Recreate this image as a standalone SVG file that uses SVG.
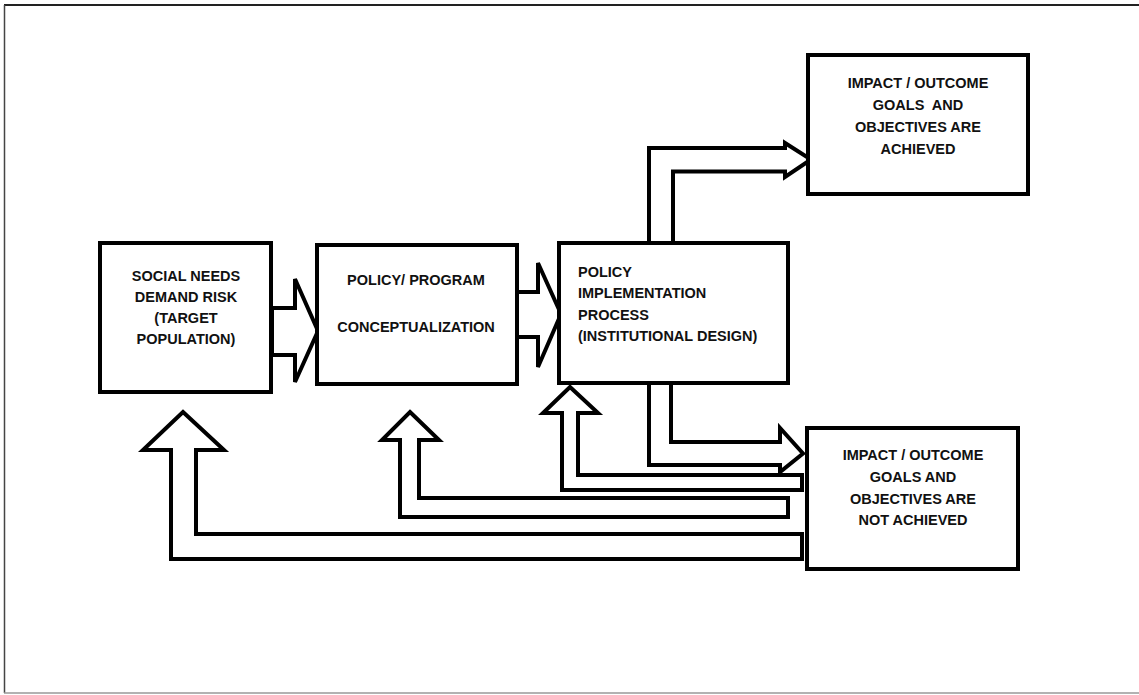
<svg xmlns="http://www.w3.org/2000/svg" width="1139" height="695" viewBox="0 0 1139 695">
<style>
.box{fill:#fff;stroke:#000;stroke-width:4}
.arr{fill:#fff;stroke:#000;stroke-width:4;stroke-linejoin:miter}
.t{font-family:"Liberation Sans",Arial,sans-serif;font-weight:bold;font-size:14.5px;fill:#111;white-space:pre}
.c{text-anchor:middle}
</style>
<rect width="1139" height="695" fill="#fff"/>
<g id="frame">
<line x1="4" y1="5" x2="1139" y2="5" stroke="#222" stroke-width="2"/>
<line x1="4.5" y1="5" x2="4.5" y2="693" stroke="#444" stroke-width="1.5"/>
<line x1="4" y1="693" x2="1139" y2="693" stroke="#999" stroke-width="1.5"/>
</g>
<g id="connectors">
<polygon class="arr" points="272,308 295,308 295,279 318,331 295,382 295,355 272,355"/>
<polygon class="arr" points="517,292 538,292 538,263 561,314 538,367 538,337 517,337"/>
<polygon class="arr" points="649,243 649,148 785,148 785,143 811,159.5 785,177 785,171.5 673,171.5 673,243"/>
<polygon class="arr" points="671,383 671,442 780,442 780,428 803,453.5 780,472 780,465 649,465 649,383"/>
<polygon class="arr" points="570,387 598,413 578,413 578,475 802,475 802,490 562,490 562,413 543,413"/>
<polygon class="arr" points="410,412 439,440 419,440 419,498 788,498 788,517 400,517 400,440 382,440"/>
<polygon class="arr" points="183,412 224,450 196,450 196,534 802,534 802,559 171,559 171,450 143,450"/>
</g>
<g id="node-social">
<rect class="box" x="100" y="243" width="171" height="149"/>
<text class="t c" x="186" y="281">SOCIAL NEEDS</text>
<text class="t c" x="186" y="302">DEMAND RISK</text>
<text class="t c" x="186" y="323">(TARGET</text>
<text class="t c" x="186" y="344">POPULATION)</text>
</g>
<g id="node-policy">
<rect class="box" x="317" y="245" width="200" height="139"/>
<text class="t c" x="416" y="285">POLICY/ PROGRAM</text>
<text class="t c" x="416" y="332">CONCEPTUALIZATION</text>
</g>
<g id="node-implementation">
<rect class="box" x="559" y="243" width="229" height="140"/>
<text class="t" x="578" y="277">POLICY</text>
<text class="t" x="578" y="298">IMPLEMENTATION</text>
<text class="t" x="578" y="320">PROCESS</text>
<text class="t" x="578" y="341">(INSTITUTIONAL DESIGN)</text>
</g>
<g id="node-achieved">
<rect class="box" x="808" y="55" width="220" height="139"/>
<text class="t c" x="918" y="88">IMPACT / OUTCOME</text>
<text class="t c" x="918" y="110">GOALS  AND</text>
<text class="t c" x="918" y="132">OBJECTIVES ARE</text>
<text class="t c" x="918" y="154">ACHIEVED</text>
</g>
<g id="node-not-achieved">
<rect class="box" x="807" y="428" width="211" height="141"/>
<text class="t c" x="913" y="460">IMPACT / OUTCOME</text>
<text class="t c" x="913" y="482">GOALS AND</text>
<text class="t c" x="913" y="504">OBJECTIVES ARE</text>
<text class="t c" x="913" y="525">NOT ACHIEVED</text>
</g>
</svg>
